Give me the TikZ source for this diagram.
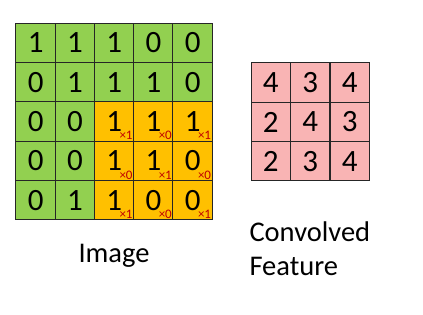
\documentclass[tikz,border=0pt]{standalone}
\usepackage{fontspec}
\setmainfont{Carlito}
\usepackage{tikz}
\usetikzlibrary{positioning, calc}
\definecolor{ImgGreen}{HTML}{92D050}
\definecolor{KernOrange}{HTML}{FFC000}
\definecolor{FeatPink}{HTML}{F9B4B4}
\definecolor{WeightRed}{HTML}{C00000}
\colorlet{cellfill0}{ImgGreen}
\colorlet{cellfill1}{KernOrange}

\begin{document}
\begin{tikzpicture}[x=1pt, y=-1pt,
    cell/.style={draw=black!85, line width=1pt, minimum size=39.3pt, inner sep=0pt,
                 font=\fontsize{31}{33}\selectfont},
    weight/.style={anchor=south east, inner sep=0pt, text=WeightRed,
                   font=\fontsize{13}{14}\selectfont},
    caption/.style={font=\fontsize{28.5}{34}\selectfont}]
    \useasboundingbox (0,0) rectangle (423,315);

    % Input image with the 3x3 kernel over the lower right corner
    \foreach \row/\vals in {0/{1,1,1,0,0}, 1/{0,1,1,1,0}, 2/{0,0,1,1,1}, 3/{0,0,1,1,0}, 4/{0,1,1,0,0}} {
        \foreach \v [count=\col from 0] in \vals {
            \pgfmathtruncatemacro\k{and(\row>1,\col>1)}
            \node[cell, fill=cellfill\k] (img-\row-\col) at ({16+39.25*(\col+0.5)}, {23+39.4*(\row+0.5)}) {\v};
            \ifnum\k=1
                \pgfmathtruncatemacro\w{1-mod(\row+\col,2)}
                \node[weight] (w-\row-\col) at ([xshift=-1.5pt, yshift=1.5pt]img-\row-\col.south east) {×\w};
            \fi
        }
    }

    % Convolved feature
    \foreach \row/\vals in {0/{4,3,4}, 1/{2,4,3}, 2/{2,3,4}} {
        \foreach \v [count=\col from 0] in \vals {
            \node[cell, fill=FeatPink] (feat-\row-\col) at ({251+39.5*(\col+0.5)}, {63+39.3*(\row+0.5)}) {\v};
        }
    }

    % Captions
    \node[caption] (imglabel) at (114,256) {Image};
    \node[caption, align=left, anchor=north west] (featlabel) at (246,218) {Convolved\\Feature};
\end{tikzpicture}
\end{document}
